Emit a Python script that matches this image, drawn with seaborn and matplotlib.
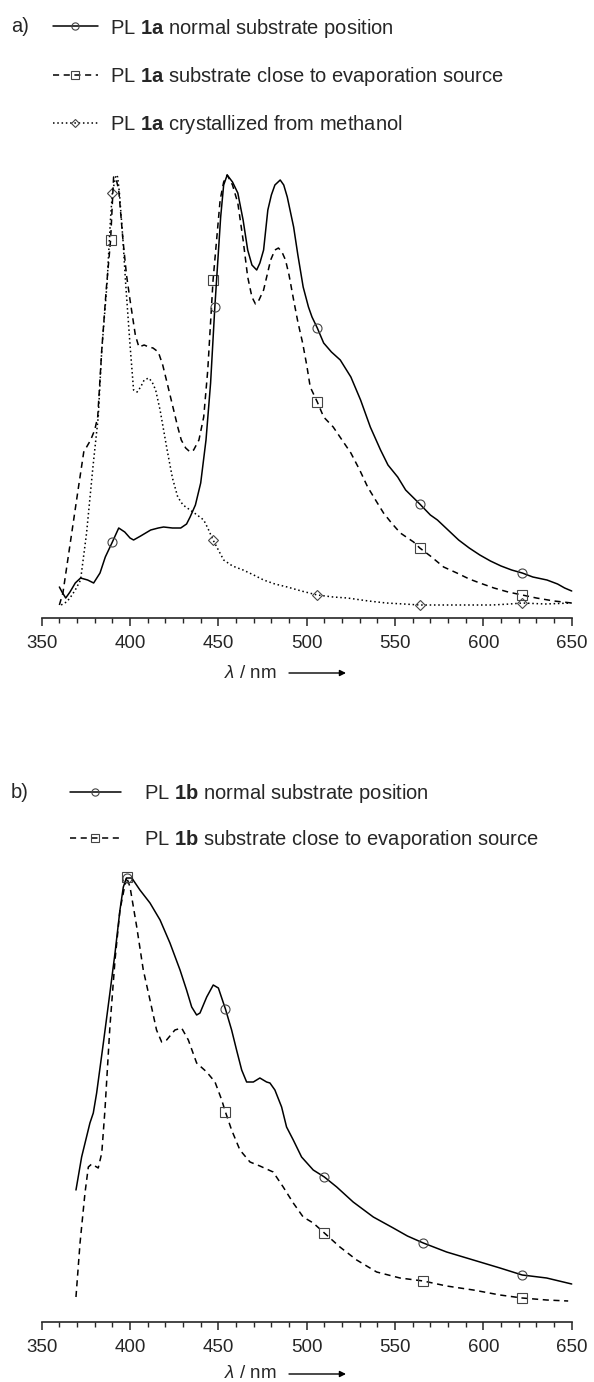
import numpy as np
import pandas as pd
import matplotlib
matplotlib.use("Agg")
import matplotlib.pyplot as plt
from matplotlib.lines import Line2D
import seaborn as sns

# ---------------- data (intensity in arbitrary units) ----------------
# Panel a: PL 1a normal substrate position
a_norm_wl = [360, 361.5, 363.6, 366, 369, 372, 376, 379.4, 383, 386, 390, 393.6, 397, 400, 402, 406,
             411.7, 416, 419, 424, 428.7, 432, 434, 437, 440, 443, 445.6, 448, 451.3, 453, 455, 458,
             461, 464, 466.6, 469, 471.7, 473.5, 475.6, 478, 480, 482, 485, 487, 489, 492.6, 495, 498,
             501, 503, 506, 509.6, 514, 519, 525, 530.5, 536, 541.8, 546, 551.5, 556, 564, 570, 574,
             580, 586, 592, 598, 604, 610, 616, 622, 628, 636, 642, 646, 650]
a_norm_int = [21, 16, 10, 16, 25, 30, 28, 25, 35, 51, 66, 80, 76, 70, 68, 72,
              78, 80, 81, 80, 80, 84, 91, 103, 125, 168, 225, 301, 391, 423, 433, 426,
              415, 388, 358, 343, 338, 345, 358, 398, 413, 423, 428, 423, 411, 381, 353, 321,
              301, 291, 280, 265, 256, 248, 231, 208, 181, 158, 143, 131, 118, 104, 93, 88,
              78, 68, 60, 53, 47, 42, 38, 35, 31, 28, 24, 20, 17]

# Panel a: PL 1a substrate close to evaporation source
a_close_wl = [360, 362, 365, 368, 371, 373.8, 377.7, 380, 381.7, 384, 386.5, 389, 390.7, 392, 393.6,
              396, 398, 400, 403, 405, 408, 410.6, 413, 416, 418.5, 421, 424, 427, 429, 431.5, 434,
              436, 439, 441.7, 444, 447, 449, 451, 453, 455, 458, 461, 464, 466.6, 469, 471, 473,
              475.6, 479.6, 482, 484, 486, 488, 490, 492.6, 495, 497.7, 500, 502, 506, 509.6, 515,
              520, 525, 530, 534.5, 540, 543.5, 548, 553, 560.5, 564, 570, 577.5, 585, 592, 598,
              606, 614, 622, 630, 640, 650]
a_close_int = [3, 15, 51, 87, 123, 156, 168, 178, 191, 258, 318, 368, 431, 430, 418,
               368, 333, 308, 273, 261, 263, 261, 260, 256, 243, 225, 203, 181, 168, 160, 156,
               158, 168, 191, 238, 328, 368, 408, 426, 433, 423, 405, 368, 331, 311, 304, 308,
               318, 348, 358, 360, 356, 348, 333, 308, 286, 265, 243, 221, 206, 191, 181,
               168, 155, 138, 121, 105, 95, 85, 75, 66, 60, 52, 41, 35, 29, 25,
               20, 16, 13, 10, 7, 5]

# Panel a: PL 1a crystallized from methanol
a_cryst_wl = [361, 364, 366, 369, 372, 375.4, 379, 382, 384, 387, 389, 390, 392, 393, 394, 396,
              397.5, 400, 402, 404, 406, 408, 410.6, 412.5, 414.5, 417, 421, 424, 427, 430, 434,
              438, 441.7, 444, 447, 450, 453, 458, 464, 470, 475.6, 482, 489, 497, 506, 515, 523,
              535, 545, 555, 564, 575, 590, 605, 615, 622, 635, 650]
a_cryst_int = [3, 6, 10, 18, 28, 75, 141, 191, 258, 325, 391, 415, 433, 431, 415, 368,
               325, 263, 218, 216, 221, 228, 230, 226, 218, 198, 158, 130, 111, 103, 98,
               93, 88, 80, 68, 58, 48, 42, 38, 33, 28, 24, 21, 17, 13, 11, 10,
               7, 5, 4, 3, 3, 3, 3, 4, 5, 4, 5]

# Panel b: PL 1b normal substrate position
b_norm_wl = [369.4, 372.6, 377.3, 379.2, 381.1, 384.9, 388.6, 391.5, 394.3, 396.2, 398, 401, 405.6,
             411.3, 417, 422.6, 428.3, 432, 434.9, 437.7, 439.6, 443.4, 447.1, 450, 454, 457.5,
             460.3, 463.2, 466, 469.8, 473.5, 477.3, 479.2, 482, 485.8, 488.6, 492.4, 497.1,
             503.7, 510, 517, 526.3, 537.7, 549, 557, 566, 579.2, 594.3, 609.4, 622, 635.8, 650]
b_norm_int = [120, 153, 187, 197, 217, 267, 317, 357, 400, 423, 432, 432, 420,
              407, 390, 367, 340, 320, 303, 295, 297, 313, 325, 322, 301, 280,
              260, 240, 228, 228, 232, 228, 227, 220, 203, 183, 170, 153,
              140, 133, 123, 108, 93, 82, 74, 67, 58, 50, 42, 35, 32, 26]

# Panel b: PL 1b substrate close to evaporation source
b_close_wl = [369.4, 371.7, 374.5, 376.4, 378.3, 382, 384, 385.8, 388.6, 391.5, 394.3, 398, 400,
              403.8, 407.5, 411.3, 415, 417.9, 420.7, 425.4, 429.2, 433, 437.7, 443.4, 448.1,
              451.9, 454, 457.5, 462.2, 467.9, 473.5, 481, 486.7, 492.4, 498, 503.7, 510, 518.8,
              528.3, 539.6, 552.8, 566, 579.2, 594.3, 609.4, 622, 635.8, 648]
b_close_int = [13, 67, 117, 143, 146, 142, 157, 200, 283, 350, 400, 433, 423,
               383, 340, 310, 280, 268, 270, 280, 282, 270, 247, 238, 228,
               210, 198, 180, 160, 148, 144, 138, 123, 107, 93, 87, 77, 63,
               50, 38, 32, 29, 24, 20, 15, 12, 10, 9]

a_marker_wl = [390, 448, 506, 564, 622]
a_close_marker_wl = [389, 447, 506, 564, 622]
b_marker_wl = [398, 454, 510, 566, 622]

x_ticks = [350, 400, 450, 500, 550, 600, 650]

labels_a = ["PL $\\mathbf{1a}$ normal substrate position",
            "PL $\\mathbf{1a}$ substrate close to evaporation source",
            "PL $\\mathbf{1a}$ crystallized from methanol"]
labels_b = ["PL $\\mathbf{1b}$ normal substrate position",
            "PL $\\mathbf{1b}$ substrate close to evaporation source"]

# ---------------- style ----------------
sns.set_style("ticks")
plt.rcParams["font.family"] = ["Liberation Sans", "DejaVu Sans"]
plt.rcParams["mathtext.fontset"] = "custom"
plt.rcParams["mathtext.rm"] = "Liberation Sans"
plt.rcParams["mathtext.it"] = "Liberation Sans:italic"
plt.rcParams["mathtext.bf"] = "Liberation Sans:bold"

FS = 13.5
FS_LEG = 14.5
LW = 1.1
MEC = "#444444"
styles = {
    "solid": dict(ls="-", marker="o", dashes=None),
    "dash": dict(ls="--", marker="s", dashes=(4, 3)),
    "dot": dict(ls=":", marker="D", dashes=(1, 1.8)),
}
msize = {"o": 6.5, "s": 6.5, "D": 5}

W, H = 594, 1382
fig = plt.figure(figsize=(W / 100, H / 100), dpi=100)

left = 41.7 / W
width = 530 / W
ax_a = fig.add_axes([left, (H - 618) / H, width, 458 / H])
ax_b = fig.add_axes([left, (H - 1322) / H, width, 460 / H])


def draw(ax, wl, inten, mwl, kind):
    st = styles[kind]
    df = pd.DataFrame({"wl": wl, "I": inten})
    idx = [int(np.argmin(np.abs(np.asarray(wl) - m))) for m in mwl]
    sns.lineplot(data=df, x="wl", y="I", ax=ax, color="black", lw=LW,
                 estimator=None, sort=False, legend=False)
    ln = ax.lines[-1]
    if st["dashes"] is not None:
        ln.set_dashes(st["dashes"])
    ln.set_marker(st["marker"])
    ln.set_markevery(idx)
    ln.set_markersize(msize[st["marker"]])
    ln.set_markerfacecolor("none")
    ln.set_markeredgecolor(MEC)
    ln.set_markeredgewidth(0.8)
    ln.set_clip_on(False)


def proxy(kind):
    st = styles[kind]
    l = Line2D([], [], color="black", lw=LW, marker=st["marker"],
               markersize=msize[st["marker"]] * 0.8, markerfacecolor="none",
               markeredgecolor=MEC, markeredgewidth=0.8)
    if st["dashes"] is not None:
        l.set_dashes(st["dashes"])
    return l


draw(ax_a, a_cryst_wl, a_cryst_int, a_marker_wl, "dot")
draw(ax_a, a_close_wl, a_close_int, a_close_marker_wl, "dash")
draw(ax_a, a_norm_wl, a_norm_int, a_marker_wl, "solid")

draw(ax_b, b_close_wl, b_close_int, b_marker_wl, "dash")
draw(ax_b, b_norm_wl, b_norm_int, b_marker_wl, "solid")

for ax, ylim, lab_y in ((ax_a, (-10, 448), -55 / 458), (ax_b, (-12, 448), -52 / 460)):
    ax.set_xlim(350, 650)
    ax.set_ylim(*ylim)
    ax.set_yticks([])
    ax.set_ylabel("")
    sns.despine(ax=ax, left=True)
    ax.spines["bottom"].set_linewidth(1.2)
    ax.set_xticks(x_ticks)
    ax.set_xticks(np.arange(350, 651, 10), minor=True)
    ax.tick_params(axis="x", which="major", length=6, width=1.1, pad=6,
                   labelsize=FS, direction="out")
    ax.tick_params(axis="x", which="minor", length=3.6, width=1.0, direction="out")
    ax.set_xlabel("$\\it{\\lambda}$ / nm", fontsize=FS, va="center")
    ax.xaxis.set_label_coords((250 - 41.7) / 530, lab_y)
    ax.annotate("", xy=((346 - 41.7) / 530, lab_y), xytext=((289 - 41.7) / 530, lab_y),
                xycoords="axes fraction", textcoords="axes fraction",
                arrowprops=dict(arrowstyle="-|>", lw=1.0, color="black",
                                mutation_scale=9, shrinkA=0, shrinkB=0),
                annotation_clip=False)
    ax.patch.set_alpha(0)

# legends
fig.text(11 / W, 1 - 27 / H, "a)", fontsize=FS_LEG, ha="left", va="center")
fig.text(11 / W, 1 - 792 / H, "b)", fontsize=FS_LEG, ha="left", va="center")

leg_a = ax_a.legend([proxy("solid"), proxy("dash"), proxy("dot")], labels_a,
                    loc="upper left", bbox_to_anchor=(53 / W, 1 - 16.5 / H),
                    bbox_transform=fig.transFigure, frameon=False, fontsize=FS_LEG,
                    handlelength=2.23, handletextpad=0.6, labelspacing=1.25,
                    borderpad=0, borderaxespad=0, numpoints=1)
leg_b = ax_b.legend([proxy("solid"), proxy("dash")], labels_b,
                    loc="upper left", bbox_to_anchor=(70 / W, 1 - 782 / H),
                    bbox_transform=fig.transFigure, frameon=False, fontsize=FS_LEG,
                    handlelength=2.53, handletextpad=1.15, labelspacing=1.13,
                    borderpad=0, borderaxespad=0, numpoints=1)

fig.savefig("out.png", dpi=100)
